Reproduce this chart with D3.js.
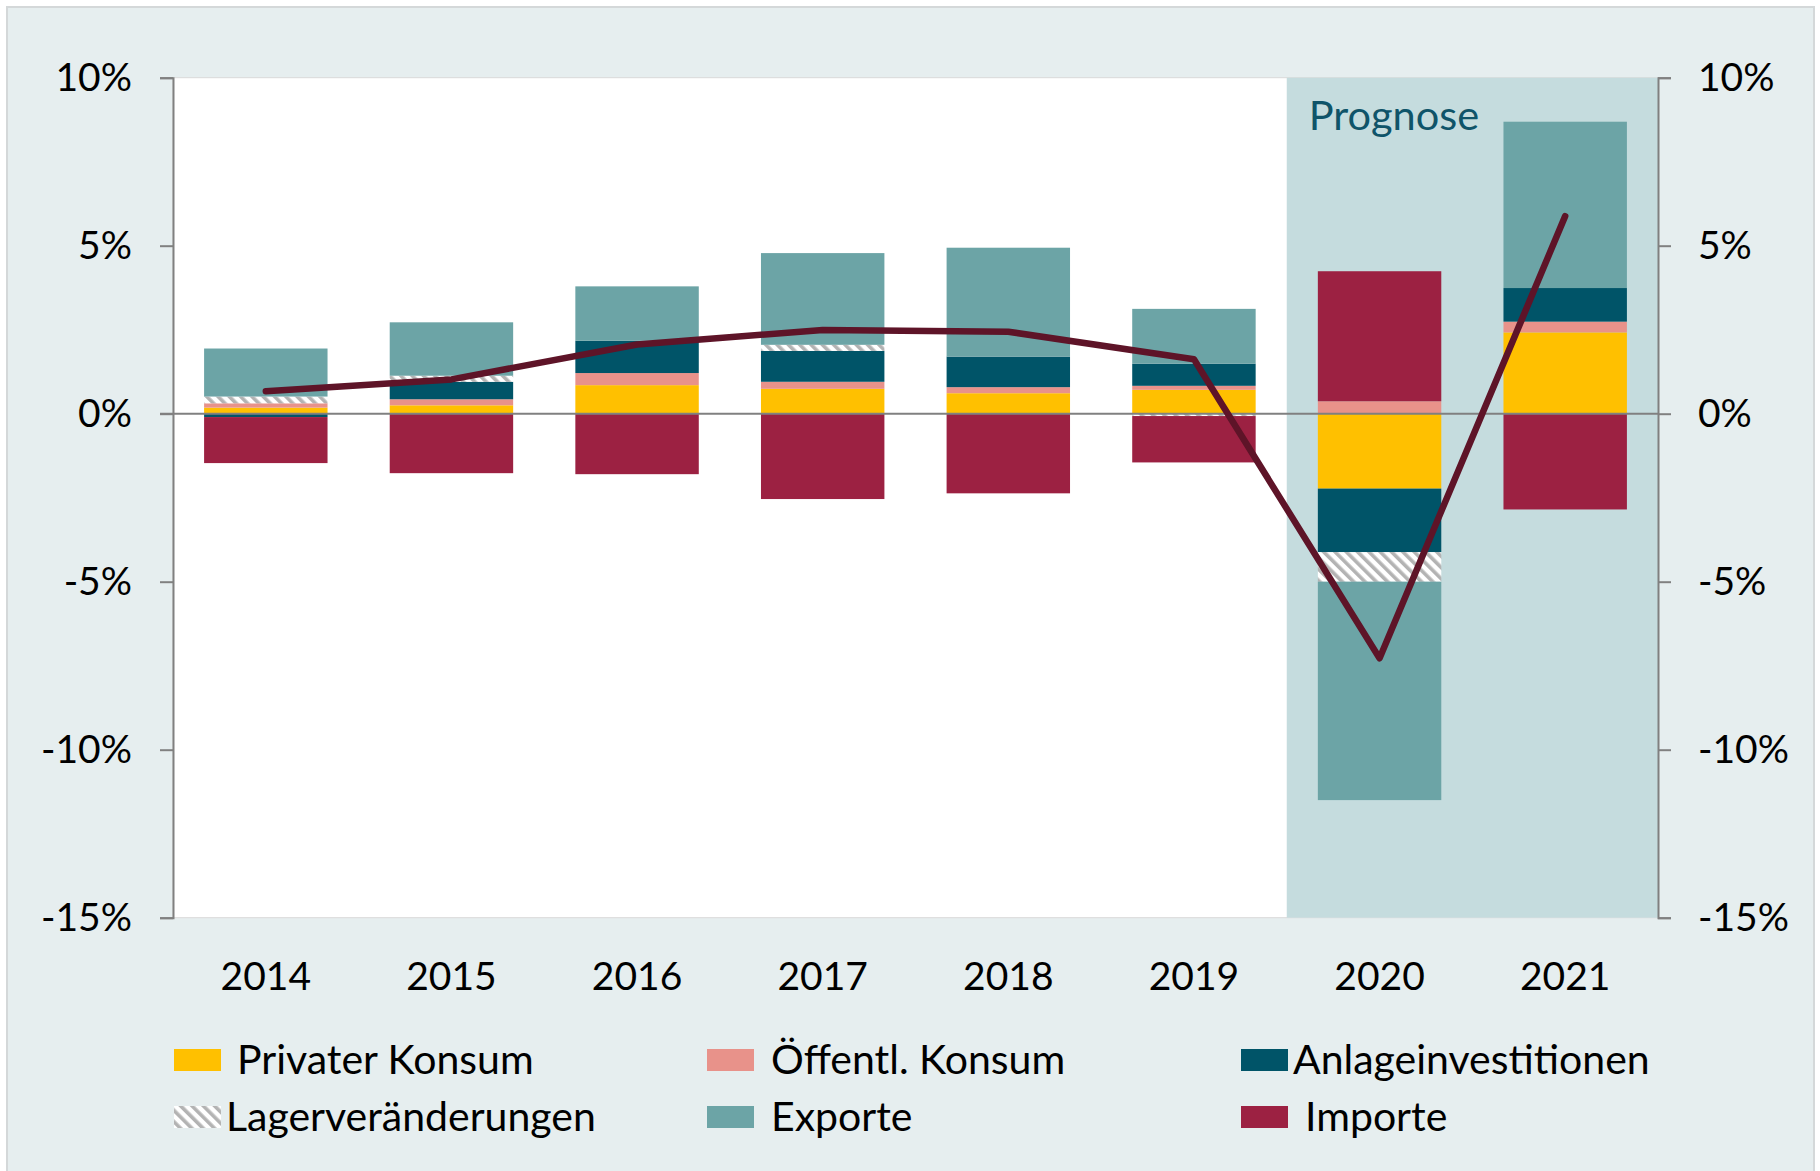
<!DOCTYPE html>
<html>
<head>
<meta charset="utf-8">
<script src="https://cdn.jsdelivr.net/npm/d3@7"></script>
<style>
  body { margin: 0; background: #ffffff; }
  svg { display: block; }
  text { font-family: Lato, "Open Sans", sans-serif; fill: #000; }
</style>
</head>
<body>
<div id="chart"></div>
<script>
// data (percentage points contribution to GDP growth)
var years = ["2014", "2015", "2016", "2017", "2018", "2019", "2020", "2021"];
var privat   = [0.18, 0.25, 0.85, 0.74, 0.61, 0.71, -2.23, 2.42];
var oeffentl = [0.13, 0.18, 0.36, 0.21, 0.18, 0.12, 0.37, 0.32];
var anlage   = [-0.10, 0.52, 0.96, 0.92, 0.91, 0.66, -1.89, 1.00];
var lager    = [0.20, 0.18, 0.00, 0.18, 0.00, -0.07, -0.88, 0.00];
var exporte  = [1.43, 1.59, 1.62, 2.73, 3.24, 1.63, -6.50, 4.95];
var importe  = [-1.37, -1.77, -1.80, -2.54, -2.37, -1.38, 3.87, -2.85];
var bip      = [0.67, 1.02, 2.06, 2.49, 2.44, 1.62, -7.28, 5.88];
var yTicks = [-15, -10, -5, 0, 5, 10];
var prognoseStart = "2020";

var seriesNames = ["Privater Konsum", "Öffentl. Konsum", "Anlageinvestitionen", "Lagerveränderungen", "Exporte", "Importe"];
var seriesKeys = ["privat", "oeffentl", "anlage", "lager", "exporte", "importe"];
var colors = {
  privat: "#FFC000",
  oeffentl: "#E8928A",
  anlage: "#005468",
  lager: "url(#hatch)",
  exporte: "#6CA4A6",
  importe: "#9C2142"
};

var width = 1820, height = 1171;
var plotLeft = 173, plotRight = 1658, plotTop = 77.7, plotBottom = 917.7;

var svg = d3.select("#chart").append("svg")
  .attr("width", width)
  .attr("height", height);

// hatch pattern for Lagerveränderungen
var defs = svg.append("defs");
var pat = defs.append("pattern")
  .attr("id", "hatch")
  .attr("patternUnits", "userSpaceOnUse")
  .attr("width", 8)
  .attr("height", 8)
  .attr("patternTransform", "rotate(-45)");
pat.append("rect").attr("width", 8).attr("height", 8).attr("fill", "#ffffff");
pat.append("rect").attr("width", 3.6).attr("height", 8).attr("fill", "#B3B3B3");

// outer frame
svg.append("rect")
  .attr("x", 7).attr("y", 7)
  .attr("width", 1807).attr("height", 1170)
  .attr("fill", "#E6EEEF")
  .attr("stroke", "#D4D8D9")
  .attr("stroke-width", 2);

var x = d3.scaleBand()
  .domain(years)
  .range([plotLeft, plotRight])
  .paddingInner(0.335)
  .paddingOuter(0.1675);

var y = d3.scaleLinear()
  .domain([-15, 10])
  .range([plotBottom, plotTop]);

// plot area
svg.append("rect")
  .attr("x", plotLeft).attr("y", plotTop)
  .attr("width", plotRight - plotLeft).attr("height", plotBottom - plotTop)
  .attr("fill", "#ffffff")
  .attr("stroke", "#D9D9D9")
  .attr("stroke-width", 1);

// Prognose shading
var shadeX = x(prognoseStart) - x.step() * x.paddingInner() / 2;
svg.append("rect")
  .attr("x", shadeX).attr("y", plotTop)
  .attr("width", plotRight - shadeX).attr("height", plotBottom - plotTop)
  .attr("fill", "#C5DCDE");

svg.append("text")
  .attr("x", shadeX + 22)
  .attr("y", 130)
  .style("font-size", "41.5px")
  .style("fill", "#0F5469")
  .text("Prognose");

// stacked bars
var rows = years.map(function(yr, i) {
  return {
    year: yr,
    privat: privat[i],
    oeffentl: oeffentl[i],
    anlage: anlage[i],
    lager: lager[i],
    exporte: exporte[i],
    importe: importe[i]
  };
});

var stack = d3.stack()
  .keys(seriesKeys)
  .offset(d3.stackOffsetDiverging);

var layers = stack(rows);

svg.selectAll(".layer")
  .data(layers)
  .enter()
  .append("g")
  .attr("class", "layer")
  .attr("fill", function(d) { return colors[d.key]; })
  .selectAll("rect")
  .data(function(d) { return d; })
  .enter()
  .append("rect")
  .attr("x", function(d) { return x(d.data.year); })
  .attr("width", x.bandwidth())
  .attr("y", function(d) { return y(Math.max(d[0], d[1])); })
  .attr("height", function(d) { return Math.abs(y(d[0]) - y(d[1])); });

// zero line
svg.append("line")
  .attr("x1", plotLeft - 13).attr("x2", plotRight)
  .attr("y1", y(0)).attr("y2", y(0))
  .attr("stroke", "#808080")
  .attr("stroke-width", 2);

// axes
var fmt = function(d) { return d + "%"; };

var axL = svg.append("g")
  .attr("transform", "translate(" + plotLeft + ",0)")
  .call(d3.axisLeft(y).tickValues(yTicks).tickFormat(fmt).tickSize(13).tickPadding(28));

var axR = svg.append("g")
  .attr("transform", "translate(" + plotRight + ",0)")
  .call(d3.axisRight(y).tickValues(yTicks).tickFormat(fmt).tickSize(13).tickPadding(27));

[axL, axR].forEach(function(ax) {
  ax.select(".domain").attr("stroke", "#808080").attr("stroke-width", 2);
  ax.selectAll(".tick line").attr("stroke", "#808080").attr("stroke-width", 2);
  ax.selectAll(".tick text")
    .attr("fill", "#000")
    .style("font-size", "39px")
    .style("font-family", "Lato, 'Open Sans', sans-serif");
});

// x labels
svg.append("g")
  .selectAll("text")
  .data(years)
  .enter()
  .append("text")
  .attr("x", function(d) { return x(d) + x.bandwidth() / 2; })
  .attr("y", 990)
  .attr("text-anchor", "middle")
  .style("font-size", "39px")
  .text(function(d) { return d; });

// GDP line
var line = d3.line()
  .x(function(d, i) { return x(years[i]) + x.bandwidth() / 2; })
  .y(function(d) { return y(d); });

svg.append("path")
  .datum(bip)
  .attr("d", line)
  .attr("fill", "none")
  .attr("stroke", "#5E1428")
  .attr("stroke-width", 6.5)
  .attr("stroke-linejoin", "round")
  .attr("stroke-linecap", "round");

// legend
var legendCols = [174, 707, 1241];
var legendRows = [1074, 1131];
var legendTextX = [237, 771, 1293, 226, 771, 1305];

var legend = svg.append("g")
  .selectAll("g")
  .data(seriesKeys)
  .enter()
  .append("g");

legend.append("rect")
  .attr("x", function(d, i) { return legendCols[i % 3]; })
  .attr("y", function(d, i) { return legendRows[Math.floor(i / 3)] - 25; })
  .attr("width", 47)
  .attr("height", 22)
  .attr("fill", function(d) { return colors[d]; });

legend.append("text")
  .attr("x", function(d, i) { return legendTextX[i]; })
  .attr("y", function(d, i) { return legendRows[Math.floor(i / 3)]; })
  .style("font-size", "41px")
  .text(function(d, i) { return seriesNames[i]; });
</script>
</body>
</html>
